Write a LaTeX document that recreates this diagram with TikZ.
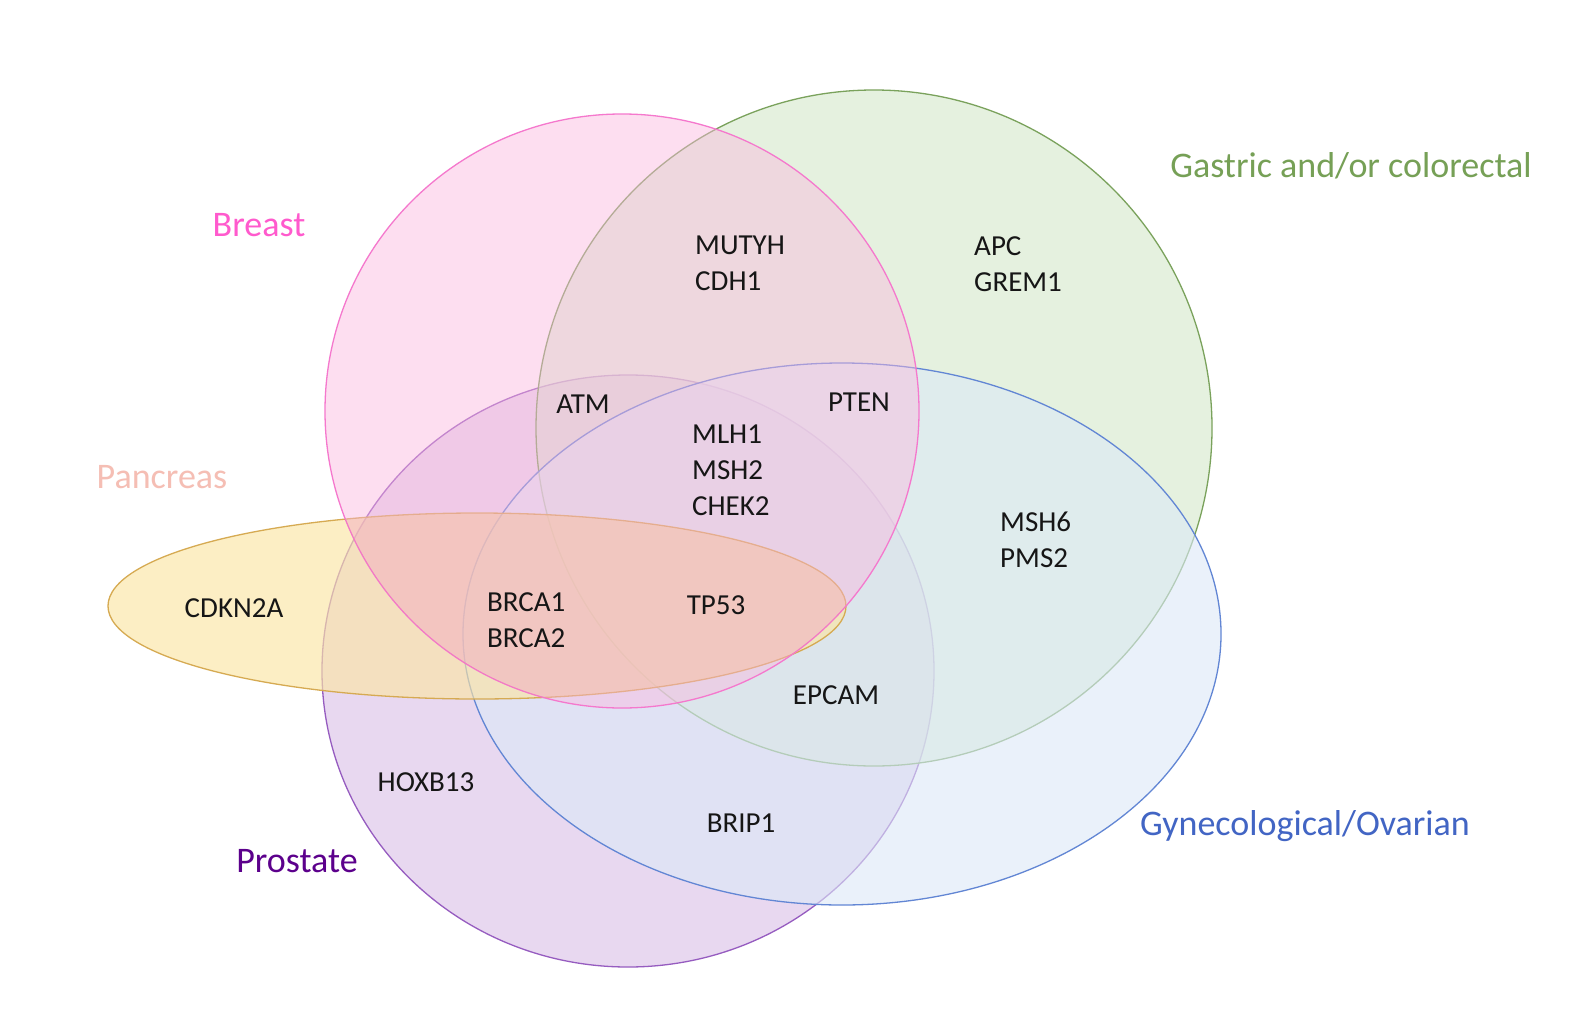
\documentclass[tikz,border=0pt]{standalone}
\usepackage{fontspec}
\setmainfont{Carlito}
\definecolor{brF}{RGB}{251,184,222}
\definecolor{brD}{RGB}{245,120,205}
\definecolor{gaF}{RGB}{213,232,203}
\definecolor{gaD}{RGB}{122,162,92}
\definecolor{gyF}{RGB}{220,233,247}
\definecolor{gyD}{RGB}{98,134,212}
\definecolor{prF}{RGB}{217,190,230}
\definecolor{prD}{RGB}{150,92,192}
\definecolor{paF}{RGB}{251,229,165}
\definecolor{paD}{RGB}{214,170,82}
\definecolor{tintC}{RGB}{221,144,118}
\definecolor{brT}{RGB}{255,90,205}
\definecolor{gaT}{RGB}{118,160,86}
\definecolor{gyT}{RGB}{66,101,196}
\definecolor{prT}{RGB}{92,0,140}
\definecolor{paT}{RGB}{245,190,180}
\definecolor{geneT}{RGB}{22,22,22}
\tikzset{
  setshape/.style={line width=1.3pt, fill opacity=0.6},
  catlabel/.style={font=\fontsize{36}{40}\selectfont, inner sep=0pt},
  gene/.style={font=\fontsize{29}{36}\selectfont, text=geneT, inner sep=0pt, align=left},
}
\begin{document}
\begin{tikzpicture}[x=1pt,y=-1pt]
\useasboundingbox[fill=white] (0,0) rectangle (1589,1033);
% sets
\draw[setshape, draw=prD, fill=prF] (628,671) ellipse [x radius=306, y radius=296];
\draw[setshape, draw=gaD, fill=gaF] (874,428) ellipse [x radius=338, y radius=338];
\draw[setshape, draw=gyD, fill=gyF] (842,634) ellipse [x radius=379, y radius=271];
\draw[setshape, fill opacity=0.65, draw=paD, fill=paF] (477,606) ellipse [x radius=369, y radius=93];
\draw[setshape, fill opacity=0.45, draw=brD, fill=brF] (622,411) ellipse [x radius=297, y radius=297];
\begin{scope}
  \clip (477,606) ellipse [x radius=369, y radius=93];
  \fill[tintC, opacity=0.13] (622,411) ellipse [x radius=297, y radius=297];
\end{scope}
% category labels
\node[catlabel, text=brT] (lbreast) at (259,225) {Breast};
\node[catlabel, text=gaT] (lgastric) at (1351,166) {Gastric and/or colorectal};
\node[catlabel, text=paT] (lpancreas) at (162,477) {Pancreas};
\node[catlabel, text=prT] (lprostate) at (297,861) {Prostate};
\node[catlabel, text=gyT] (lgyn) at (1305,826) {Gynecological/Ovarian};
% genes
\node[gene, anchor=west] (g1) at (695,263) {MUTYH\\CDH1};
\node[gene, anchor=west] (g2) at (974,264) {APC\\GREM1};
\node[gene] (g3) at (583,404) {ATM};
\node[gene] (g4) at (859,402) {PTEN};
\node[gene, anchor=west] (g5) at (692,470) {MLH1\\MSH2\\CHEK2};
\node[gene, anchor=west] (g6) at (1000,540) {MSH6\\PMS2};
\node[gene] (g7) at (234,608) {CDKN2A};
\node[gene, anchor=west] (g8) at (487,620) {BRCA1\\BRCA2};
\node[gene] (g9) at (716,605) {TP53};
\node[gene] (g10) at (836,695) {EPCAM};
\node[gene] (g11) at (426,782) {HOXB13};
\node[gene] (g12) at (741,823) {BRIP1};
\end{tikzpicture}
\end{document}
